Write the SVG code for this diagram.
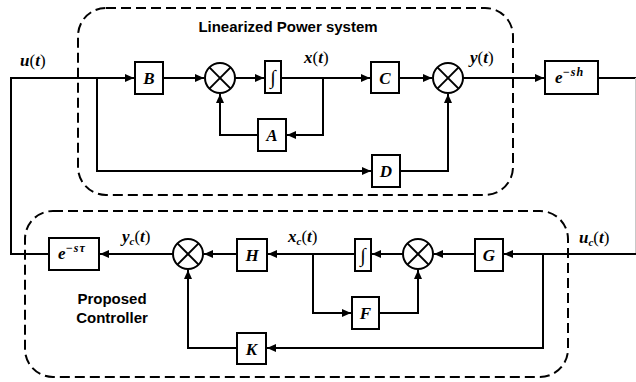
<svg xmlns="http://www.w3.org/2000/svg" width="636" height="382" viewBox="0 0 636 382">
<style>
.blk{fill:#fff;stroke:#000;stroke-width:2}
.sum circle{fill:#fff;stroke:#000;stroke-width:2}
.sum line{stroke:#000;stroke-width:2}
.ln{fill:none;stroke:#000;stroke-width:2}
.dash{fill:none;stroke:#000;stroke-width:2;stroke-dasharray:10 5}
.lbl{font-family:"Liberation Serif",serif;font-weight:bold;font-style:italic;font-size:17px;text-anchor:middle}
.math{font-family:"Liberation Serif",serif;font-weight:bold;font-style:italic;font-size:17px}
.up{font-style:normal;font-weight:normal}
.sub{font-size:11px}
.sup{font-size:12px;letter-spacing:1px}
.int{font-family:"Liberation Serif",serif;font-style:italic;font-size:20px;text-anchor:middle}
.title{font-family:"Liberation Sans",Arial,sans-serif;font-weight:bold;font-size:15px}
</style>
<defs>
<marker id="arr" markerWidth="9" markerHeight="8" refX="9" refY="4" orient="auto" markerUnits="userSpaceOnUse">
<path d="M0,0 L9,4 L0,8 z" fill="#000"/>
</marker>
</defs>
<rect width="636" height="382" fill="#fff"/>

<g id="plant-frame">
<rect class="dash" x="78" y="8" width="435" height="187" rx="28" ry="28"/>
<text class="title" x="288" y="32" text-anchor="middle">Linearized Power system</text>
</g>
<g id="controller-frame">
<rect class="dash" x="25" y="211" width="543" height="166" rx="28" ry="28"/>
<text class="title" x="112" y="304" text-anchor="middle">Proposed</text>
<text class="title" x="112" y="323" text-anchor="middle">Controller</text>
</g>

<g id="connectors">
<polyline class="ln" points="49,254 11,254 11,78 134,78" marker-end="url(#arr)"/>
<polyline class="ln" points="97,78 97,171 371,171" marker-end="url(#arr)"/>
<line class="ln" x1="163" y1="78" x2="204" y2="78" marker-end="url(#arr)"/>
<line class="ln" x1="235" y1="78" x2="264" y2="78" marker-end="url(#arr)"/>
<line class="ln" x1="281" y1="78" x2="370" y2="78" marker-end="url(#arr)"/>
<polyline class="ln" points="323,78 323,135 287,135" marker-end="url(#arr)"/>
<polyline class="ln" points="258,135 220,135 220,94" marker-end="url(#arr)"/>
<line class="ln" x1="399" y1="78" x2="432" y2="78" marker-end="url(#arr)"/>
<polyline class="ln" points="400,171 448,171 448,94" marker-end="url(#arr)"/>
<line class="ln" x1="463" y1="78" x2="544" y2="78" marker-end="url(#arr)"/>
<line class="ln" x1="598" y1="78" x2="636" y2="78"/>
<line x1="635.5" y1="78" x2="635.5" y2="254" stroke="#c8c8c8" stroke-width="1"/>
<line class="ln" x1="636" y1="254" x2="504" y2="254" marker-end="url(#arr)"/>
<polyline class="ln" points="543,254 543,348 267,348" marker-end="url(#arr)"/>
<line class="ln" x1="475" y1="254" x2="434" y2="254" marker-end="url(#arr)"/>
<line class="ln" x1="403" y1="254" x2="372" y2="254" marker-end="url(#arr)"/>
<line class="ln" x1="354" y1="254" x2="268" y2="254" marker-end="url(#arr)"/>
<polyline class="ln" points="313,254 313,313 351,313" marker-end="url(#arr)"/>
<polyline class="ln" points="379,313 418,313 418,270" marker-end="url(#arr)"/>
<line class="ln" x1="237" y1="254" x2="204" y2="254" marker-end="url(#arr)"/>
<polyline class="ln" points="237,348 188,348 188,270" marker-end="url(#arr)"/>
<line class="ln" x1="173" y1="254" x2="100" y2="254" marker-end="url(#arr)"/>
</g>

<g id="signal-labels">
<text class="math" x="20" y="66">u<tspan class="up">(</tspan>t<tspan class="up">)</tspan></text>
<text class="math" x="304" y="63">x<tspan class="up">(</tspan>t<tspan class="up">)</tspan></text>
<text class="math" x="470" y="63">y<tspan class="up">(</tspan>t<tspan class="up">)</tspan></text>
<text class="math" x="122" y="242">y<tspan class="sub" dy="3">c</tspan><tspan class="up" dy="-3">(</tspan>t<tspan class="up">)</tspan></text>
<text class="math" x="288" y="242">x<tspan class="sub" dy="3">c</tspan><tspan class="up" dy="-3">(</tspan>t<tspan class="up">)</tspan></text>
<text class="math" x="579" y="243">u<tspan class="sub" dy="3">c</tspan><tspan class="up" dy="-3">(</tspan>t<tspan class="up">)</tspan></text>
</g>

<g id="B"><rect class="blk" x="135" y="62" width="28" height="32"/><text class="lbl" x="149" y="84">B</text></g>
<g id="sum1" class="sum"><circle cx="220" cy="78" r="15"/><line x1="209.4" y1="67.4" x2="230.6" y2="88.6"/><line x1="230.6" y1="67.4" x2="209.4" y2="88.6"/></g>
<g id="int1"><rect class="blk" x="265" y="61" width="16" height="32"/><text class="int" x="273" y="84">∫</text></g>
<g id="A"><rect class="blk" x="258" y="119" width="28" height="32"/><text class="lbl" x="272" y="141">A</text></g>
<g id="C"><rect class="blk" x="371" y="62" width="28" height="31"/><text class="lbl" x="385" y="84">C</text></g>
<g id="D"><rect class="blk" x="372" y="155" width="28" height="32"/><text class="lbl" x="386" y="177">D</text></g>
<g id="sum2" class="sum"><circle cx="448" cy="78" r="15"/><line x1="437.4" y1="67.4" x2="458.6" y2="88.6"/><line x1="458.6" y1="67.4" x2="437.4" y2="88.6"/></g>
<g id="delay-h"><rect class="blk" x="545" y="61" width="53" height="33"/><text class="math" x="555" y="83">e<tspan class="sup" dy="-7">−sh</tspan></text></g>

<g id="G"><rect class="blk" x="475" y="239" width="28" height="32"/><text class="lbl" x="489" y="261">G</text></g>
<g id="sum4" class="sum"><circle cx="418" cy="254" r="15"/><line x1="407.4" y1="243.4" x2="428.6" y2="264.6"/><line x1="428.6" y1="243.4" x2="407.4" y2="264.6"/></g>
<g id="int2"><rect class="blk" x="355" y="239" width="16" height="32"/><text class="int" x="363" y="262">∫</text></g>
<g id="F"><rect class="blk" x="352" y="297" width="27" height="32"/><text class="lbl" x="365.5" y="319">F</text></g>
<g id="H"><rect class="blk" x="237" y="239" width="30" height="32"/><text class="lbl" x="252" y="261">H</text></g>
<g id="K"><rect class="blk" x="237" y="333" width="29" height="31"/><text class="lbl" x="251.5" y="355">K</text></g>
<g id="sum3" class="sum"><circle cx="188" cy="254" r="15"/><line x1="177.4" y1="243.4" x2="198.6" y2="264.6"/><line x1="198.6" y1="243.4" x2="177.4" y2="264.6"/></g>
<g id="delay-tau"><rect class="blk" x="49" y="238" width="50" height="32"/><text class="math" x="58" y="259">e<tspan class="sup" dy="-7">−sτ</tspan></text></g>
</svg>
